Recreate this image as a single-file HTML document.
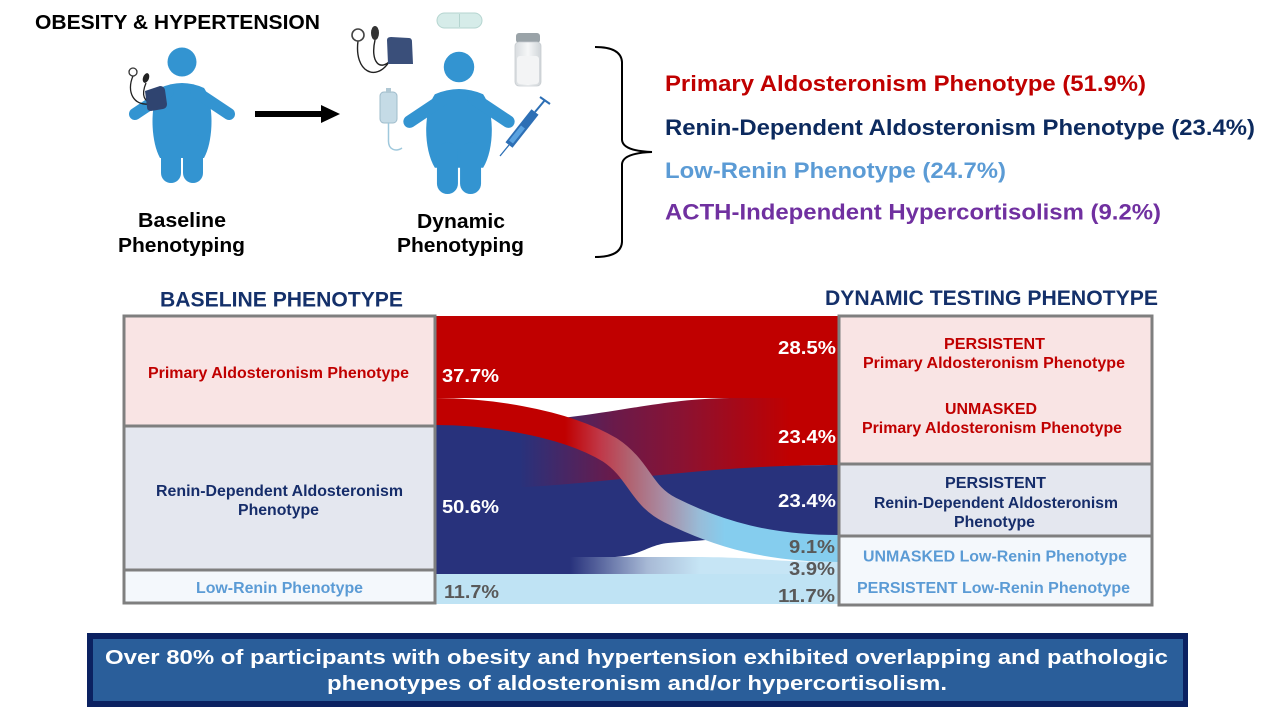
<!DOCTYPE html>
<html>
<head>
<meta charset="utf-8">
<style>
  html,body{margin:0;padding:0;background:#fff;}
  svg{display:block;}
  text{font-family:"Liberation Sans", Arial, sans-serif;font-weight:bold;}
</style>
</head>
<body>
<svg width="1280" height="720" viewBox="0 0 1280 720" xmlns="http://www.w3.org/2000/svg">
  <defs>
    <linearGradient id="gSnake" gradientUnits="userSpaceOnUse" x1="565" y1="0" x2="725" y2="0">
      <stop offset="0" stop-color="#c00000"/>
      <stop offset="0.22" stop-color="#c03848"/>
      <stop offset="0.41" stop-color="#b06472"/>
      <stop offset="0.625" stop-color="#a88ea6"/>
      <stop offset="0.84" stop-color="#98bcd8"/>
      <stop offset="1" stop-color="#85cdee"/>
    </linearGradient>
    <linearGradient id="gUPA" gradientUnits="userSpaceOnUse" x1="520" y1="0" x2="790" y2="0">
      <stop offset="0" stop-color="#28327c"/>
      <stop offset="0.35" stop-color="#6a1a4a"/>
      <stop offset="0.6" stop-color="#8a1232"/>
      <stop offset="1" stop-color="#c00000"/>
    </linearGradient>
    <linearGradient id="g39" gradientUnits="userSpaceOnUse" x1="570" y1="0" x2="700" y2="0">
      <stop offset="0" stop-color="#28327c"/>
      <stop offset="0.6" stop-color="#a8bad6"/>
      <stop offset="1" stop-color="#c6e5f5"/>
    </linearGradient>
    <linearGradient id="gSalt" x1="0" y1="0" x2="1" y2="0">
      <stop offset="0" stop-color="#d8dcdf"/>
      <stop offset="0.5" stop-color="#f6f7f8"/>
      <stop offset="1" stop-color="#cfd4d8"/>
    </linearGradient>
  </defs>

  <rect x="0" y="0" width="1280" height="720" fill="#ffffff"/>

  <!-- Title -->
  <text x="35" y="29" font-size="20.5" fill="#000" textLength="285" lengthAdjust="spacingAndGlyphs">OBESITY &amp; HYPERTENSION</text>

  <!-- Person 1 -->
  <g transform="translate(182,62)" fill="#3394d1">
    <circle cx="0" cy="0" r="14.5"/>
    <path d="M-22,26 Q0,16 22,26 C32,40 32,78 22,96 L-22,96 C-32,78 -32,40 -22,26 Z"/>
    <line x1="-14" y1="30" x2="-47" y2="52" stroke="#3394d1" stroke-width="12" stroke-linecap="round"/>
    <line x1="14" y1="30" x2="47" y2="52" stroke="#3394d1" stroke-width="12" stroke-linecap="round"/>
    <rect x="-21" y="72" width="20" height="49" rx="10"/>
    <rect x="1" y="72" width="20" height="49" rx="10"/>
  </g>
  <!-- BP on person 1 -->
  <g>
    <path d="M133,76 C126,92 134,106 149,104" fill="none" stroke="#222" stroke-width="1.3"/>
    <path d="M146,83 C141,95 144,103 153,101" fill="none" stroke="#222" stroke-width="1.3"/>
    <path d="M145,91 L160,86 Q164,86 165,90 L167,104 Q167,108 163,109 L151,111 Q147,111 147,107 Z" fill="#2f4470"/>
    <circle cx="133" cy="72" r="4" fill="#fff" stroke="#333" stroke-width="1.3"/>
    <ellipse cx="146" cy="78" rx="3" ry="5" fill="#222" transform="rotate(20 146 78)"/>
  </g>

  <!-- Arrow -->
  <rect x="255" y="111" width="68" height="6" fill="#000"/>
  <polygon points="321,105 340,114 321,123" fill="#000"/>

  <!-- Person 2 -->
  <g transform="translate(459,67) scale(1.05)" fill="#3394d1">
    <circle cx="0" cy="0" r="14.5"/>
    <path d="M-23,26 Q0,16 23,26 C34,42 34,78 23,96 L-23,96 C-34,78 -34,42 -23,26 Z"/>
    <line x1="-14" y1="30" x2="-47" y2="52" stroke="#3394d1" stroke-width="12" stroke-linecap="round"/>
    <line x1="14" y1="30" x2="47" y2="52" stroke="#3394d1" stroke-width="12" stroke-linecap="round"/>
    <rect x="-21" y="72" width="20" height="49" rx="10"/>
    <rect x="1" y="72" width="20" height="49" rx="10"/>
  </g>
  <!-- Pill -->
  <rect x="437" y="13" width="45" height="15" rx="7.5" fill="#d6ece9" stroke="#b5d5d0" stroke-width="1"/>
  <line x1="459.5" y1="14" x2="459.5" y2="27" stroke="#b5d5d0" stroke-width="1"/>
  <!-- BP set person 2 -->
  <g>
    <path d="M358,41 C354,72 376,82 389,62" fill="none" stroke="#222" stroke-width="1.4"/>
    <path d="M375,40 C370,62 380,72 391,60" fill="none" stroke="#222" stroke-width="1.4"/>
    <path d="M387,40 Q387,37 391,37 L409,38 Q412,38 412,42 L413,64 L388,64 Z" fill="#3a4f7a"/>
    <circle cx="358" cy="35" r="6" fill="#fff" stroke="#444" stroke-width="1.6"/>
    <ellipse cx="375" cy="33" rx="4" ry="7" fill="#333"/>
  </g>
  <!-- IV bag -->
  <g>
    <rect x="380" y="92" width="17" height="31" rx="4" fill="#c5dbe6" stroke="#9fbccb" stroke-width="1"/>
    <rect x="386" y="88" width="5" height="5" fill="#b0c8d4"/>
    <path d="M388.5,123 L388.5,140 C388,150 396,152 402,148" fill="none" stroke="#9fc8dc" stroke-width="1.5"/>
  </g>
  <!-- Salt shaker -->
  <g>
    <rect x="516" y="33" width="24" height="10" rx="3" fill="#9aa3a8"/>
    <rect x="515" y="42" width="26" height="44" rx="4" fill="url(#gSalt)" stroke="#c8cdd1" stroke-width="0.8"/>
    <rect x="517" y="56" width="22" height="28" rx="3" fill="#f3f4f5"/>
  </g>
  <!-- Syringe -->
  <g>
    <line x1="500" y1="156" x2="509" y2="145" stroke="#2d6fb5" stroke-width="1.3"/>
    <line x1="509" y1="145" x2="535" y2="112" stroke="#2d6fb5" stroke-width="9" stroke-linecap="butt"/>
    <line x1="511" y1="142" x2="523" y2="127" stroke="#5aa2e0" stroke-width="5"/>
    <line x1="535" y1="112" x2="545" y2="100" stroke="#2d6fb5" stroke-width="2"/>
    <line x1="540" y1="97" x2="550" y2="104" stroke="#2d6fb5" stroke-width="2"/>
  </g>

  <!-- Phenotyping labels -->
  <text x="138" y="227" font-size="20" fill="#000" textLength="88" lengthAdjust="spacingAndGlyphs">Baseline</text>
  <text x="118" y="252" font-size="20" fill="#000" textLength="127" lengthAdjust="spacingAndGlyphs">Phenotyping</text>
  <text x="417" y="228" font-size="20" fill="#000" textLength="88" lengthAdjust="spacingAndGlyphs">Dynamic</text>
  <text x="397" y="252" font-size="20" fill="#000" textLength="127" lengthAdjust="spacingAndGlyphs">Phenotyping</text>

  <!-- Brace -->
  <path d="M595,47 Q621,47 622,62 L622,140 Q623,151 652,152 Q623,153 622,164 L622,242 Q621,257 595,257" fill="none" stroke="#000" stroke-width="2"/>

  <!-- Top-right phenotype list -->
  <text x="665" y="91" font-size="22" fill="#c00000" textLength="481" lengthAdjust="spacingAndGlyphs">Primary Aldosteronism Phenotype (51.9%)</text>
  <text x="665" y="135" font-size="22" fill="#0c2a5e" textLength="590" lengthAdjust="spacingAndGlyphs">Renin-Dependent Aldosteronism Phenotype (23.4%)</text>
  <text x="665" y="178" font-size="22" fill="#5b9bd5" textLength="341" lengthAdjust="spacingAndGlyphs">Low-Renin Phenotype (24.7%)</text>
  <text x="665" y="219.5" font-size="22" fill="#7030a0" textLength="496" lengthAdjust="spacingAndGlyphs">ACTH-Independent Hypercortisolism (9.2%)</text>

  <!-- Section headings -->
  <text x="160" y="306.5" font-size="21" fill="#14306a" textLength="243" lengthAdjust="spacingAndGlyphs">BASELINE PHENOTYPE</text>
  <text x="825" y="305" font-size="21" fill="#14306a" textLength="333" lengthAdjust="spacingAndGlyphs">DYNAMIC TESTING PHENOTYPE</text>

  <!-- Sankey flows -->
  <rect x="436" y="573" width="403" height="31" fill="#bfe3f4"/>
  <path d="M436,557 L690,557 C760,557 770,562 839,562 L839,574 L436,574 Z" fill="url(#g39)"/>
  <path d="M436,480 C600,480 680,465 839,465 L839,535 C760,535 720,539 668,543 C648,545 640,556 615,557 L436,557 Z" fill="#28327c"/>
  <path d="M436,425 C590,425 640,399 730,398 L839,398 L839,465 C680,465 600,489 436,490 Z" fill="url(#gUPA)"/>
  <rect x="436" y="316" width="403" height="82" fill="#c00000"/>
  <path d="M436,411.5 C480,411.5 560,420 610,450 C640,470 640,495 670,510 C720,535 770,548.5 839,548.5" fill="none" stroke="url(#gSnake)" stroke-width="27"/>

  <!-- Sankey labels -->
  <text x="442" y="382" font-size="18" fill="#fff" textLength="57" lengthAdjust="spacingAndGlyphs">37.7%</text>
  <text x="442" y="513" font-size="18" fill="#fff" textLength="57" lengthAdjust="spacingAndGlyphs">50.6%</text>
  <text x="444" y="598" font-size="18" fill="#595959" textLength="55" lengthAdjust="spacingAndGlyphs">11.7%</text>
  <text x="778" y="354" font-size="18" fill="#fff" textLength="58" lengthAdjust="spacingAndGlyphs">28.5%</text>
  <text x="778" y="443" font-size="18" fill="#fff" textLength="58" lengthAdjust="spacingAndGlyphs">23.4%</text>
  <text x="778" y="507" font-size="18" fill="#fff" textLength="58" lengthAdjust="spacingAndGlyphs">23.4%</text>
  <text x="789" y="553" font-size="18" fill="#595959" textLength="46" lengthAdjust="spacingAndGlyphs">9.1%</text>
  <text x="789" y="575" font-size="18" fill="#595959" textLength="46" lengthAdjust="spacingAndGlyphs">3.9%</text>
  <text x="778" y="602" font-size="18" fill="#595959" textLength="57" lengthAdjust="spacingAndGlyphs">11.7%</text>

  <!-- Left boxes -->
  <rect x="124" y="316" width="311" height="110" fill="#f9e4e4"/>
  <rect x="124" y="426" width="311" height="144" fill="#e4e7ef"/>
  <rect x="124" y="570" width="311" height="33" fill="#f4f8fc"/>
  <rect x="124" y="316" width="311" height="287" fill="none" stroke="#7f7f7f" stroke-width="3"/>
  <line x1="124" y1="426" x2="435" y2="426" stroke="#7f7f7f" stroke-width="3"/>
  <line x1="124" y1="570" x2="435" y2="570" stroke="#7f7f7f" stroke-width="3"/>
  <text x="148" y="378" font-size="16" fill="#c00000" textLength="261" lengthAdjust="spacingAndGlyphs">Primary Aldosteronism Phenotype</text>
  <text x="156" y="496" font-size="16" fill="#162d6a" textLength="247" lengthAdjust="spacingAndGlyphs">Renin-Dependent Aldosteronism</text>
  <text x="238" y="515" font-size="16" fill="#162d6a" textLength="81" lengthAdjust="spacingAndGlyphs">Phenotype</text>
  <text x="196" y="593" font-size="16" fill="#5b9bd5" textLength="167" lengthAdjust="spacingAndGlyphs">Low-Renin Phenotype</text>

  <!-- Right boxes -->
  <rect x="839" y="316" width="313" height="148" fill="#f9e4e4"/>
  <rect x="839" y="464" width="313" height="72" fill="#e4e7ef"/>
  <rect x="839" y="536" width="313" height="69" fill="#f4f8fc"/>
  <rect x="839" y="316" width="313" height="289" fill="none" stroke="#7f7f7f" stroke-width="3"/>
  <line x1="839" y1="464" x2="1152" y2="464" stroke="#7f7f7f" stroke-width="3"/>
  <line x1="839" y1="536" x2="1152" y2="536" stroke="#7f7f7f" stroke-width="3"/>
  <text x="944" y="349" font-size="16" fill="#c00000" textLength="101" lengthAdjust="spacingAndGlyphs">PERSISTENT</text>
  <text x="863" y="368" font-size="16" fill="#c00000" textLength="262" lengthAdjust="spacingAndGlyphs">Primary Aldosteronism Phenotype</text>
  <text x="945" y="414" font-size="16" fill="#c00000" textLength="92" lengthAdjust="spacingAndGlyphs">UNMASKED</text>
  <text x="862" y="433" font-size="16" fill="#c00000" textLength="260" lengthAdjust="spacingAndGlyphs">Primary Aldosteronism Phenotype</text>
  <text x="945" y="488" font-size="16" fill="#162d6a" textLength="101" lengthAdjust="spacingAndGlyphs">PERSISTENT</text>
  <text x="874" y="508" font-size="16" fill="#162d6a" textLength="244" lengthAdjust="spacingAndGlyphs">Renin-Dependent Aldosteronism</text>
  <text x="954" y="527" font-size="16" fill="#162d6a" textLength="81" lengthAdjust="spacingAndGlyphs">Phenotype</text>
  <text x="863" y="561.5" font-size="16" fill="#5b9bd5" textLength="264" lengthAdjust="spacingAndGlyphs">UNMASKED Low-Renin Phenotype</text>
  <text x="857" y="593" font-size="16" fill="#5b9bd5" textLength="273" lengthAdjust="spacingAndGlyphs">PERSISTENT Low-Renin Phenotype</text>

  <!-- Bottom banner -->
  <rect x="87" y="633" width="1101" height="74" fill="#0b2161"/>
  <rect x="93" y="639" width="1090" height="62" fill="#2a5e9a"/>
  <text x="105" y="664" font-size="20" fill="#fff" textLength="1063" lengthAdjust="spacingAndGlyphs">Over 80% of participants with obesity and hypertension exhibited overlapping and pathologic</text>
  <text x="327" y="690" font-size="20" fill="#fff" textLength="620" lengthAdjust="spacingAndGlyphs">phenotypes of aldosteronism and/or hypercortisolism.</text>
</svg>
</body>
</html>
